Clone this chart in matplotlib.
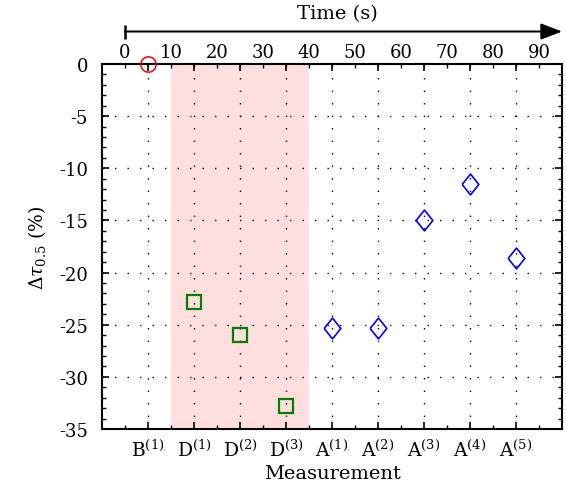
import numpy as np
import matplotlib
matplotlib.use('Agg')
import matplotlib.pyplot as plt
from matplotlib.ticker import MultipleLocator, FixedLocator

plt.rcParams['font.family'] = 'DejaVu Serif'
plt.rcParams['mathtext.fontset'] = 'dejavuserif'

# 数据
labels = [r'B$^{(1)}$', r'D$^{(1)}$', r'D$^{(2)}$', r'D$^{(3)}$',
          r'A$^{(1)}$', r'A$^{(2)}$', r'A$^{(3)}$', r'A$^{(4)}$', r'A$^{(5)}$']
t_base = [5]
v_base = [0.0]
t_dry = [15, 25, 35]
v_dry = [-22.8, -26.0, -32.8]
t_after = [45, 55, 65, 75, 85]
v_after = [-25.3, -25.3, -15.0, -11.5, -18.6]
pos_all = t_base + t_dry + t_after
time_ticks = list(range(0, 100, 10))
shade = (10, 40)

fig = plt.figure(figsize=(5.66, 4.89), dpi=100)
ax = fig.add_axes([0.1802, 0.1207, 0.8128, 0.7463])

ax.axvspan(shade[0], shade[1], color='#ffdede', lw=0, zorder=0)

# 网格
for x in pos_all:
    ax.axvline(x, color='k', lw=1.0, ls=(0, (1, 8)), zorder=1)
for y in np.arange(-5, -35, -5):
    ax.axhline(y, color='k', lw=1.0, ls=(0, (1, 8)), zorder=1)

ax.plot(t_base, v_base, 'o', mfc='none', mec='red', ms=11, mew=1.1, zorder=3, clip_on=False)
ax.plot(t_dry, v_dry, 's', mfc='none', mec='green', ms=9.5, mew=1.6, zorder=3)
diamond = [(-0.8, 0), (0, 1), (0.8, 0), (0, -1), (-0.8, 0)]
ax.plot(t_after, v_after, marker=diamond, ls='none', mfc='none', mec='blue', ms=15, mew=1.2, zorder=3)

ax.set_xlim(-5, 95)
ax.set_ylim(-35, 0)
ax.xaxis.set_major_locator(FixedLocator(pos_all))
ax.xaxis.set_minor_locator(FixedLocator(time_ticks))
ax.set_xticklabels(labels)
ax.yaxis.set_major_locator(MultipleLocator(5))
ax.yaxis.set_minor_locator(MultipleLocator(1))
ax.yaxis.set_major_formatter(plt.FuncFormatter(lambda v, p: '%d' % v))
ax.tick_params(which='both', direction='in', top=True, right=True)
ax.tick_params(which='major', length=5, width=1.2)
ax.tick_params(which='minor', length=3, width=1.0)
ax.tick_params(axis='x', pad=7, labelsize=13.5)
ax.tick_params(axis='y', pad=10, labelsize=13)
for s in ax.spines.values():
    s.set_linewidth(1.5)
ax.set_xlabel('Measurement', fontsize=14, labelpad=3)
ax.set_ylabel(r'$\Delta\tau_{0.5}$ (%)', fontsize=13.5, labelpad=8)

# 顶部时间轴
axt = fig.add_axes([0.1802, 0.933, 0.8128, 0.001])
axt.set_xlim(-5, 95)
axt.set_ylim(-1, 1)
for s in axt.spines.values():
    s.set_visible(False)
axt.patch.set_visible(False)
axt.set_yticks([])
axt.set_xticks(time_ticks)
axt.tick_params(axis='x', length=0, labelsize=13, pad=8)
axt.annotate('', xy=(95, 0), xytext=(0, 0), xycoords='data',
             arrowprops=dict(arrowstyle='-|>,head_length=1.3,head_width=0.5', color='k', lw=1.4,
                             shrinkA=0, shrinkB=0), annotation_clip=False)
axt.plot([0], [0], marker='|', color='k', ms=10, mew=1.8, clip_on=False)
fig.text(0.5954, 0.971, 'Time (s)', ha='center', va='center', fontsize=14)

fig.savefig('out.png', dpi=100)
